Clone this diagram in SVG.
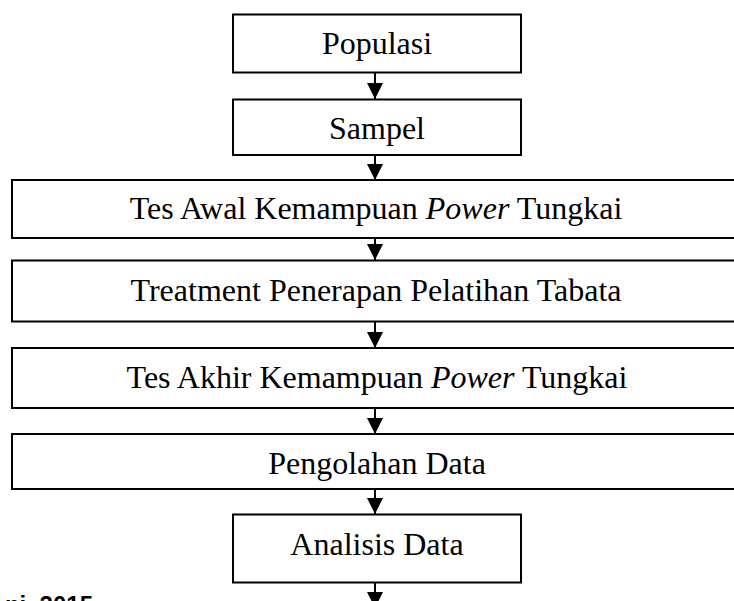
<svg xmlns="http://www.w3.org/2000/svg" width="734" height="601" viewBox="0 0 734 601">
<style>
.box{fill:#fff;stroke:#000;stroke-width:2}
.lbl{font-family:"Liberation Serif","Times New Roman",serif;font-size:32px;fill:#000;text-anchor:middle}
.con{stroke:#000;stroke-width:2;fill:none}
.src{font-family:"Liberation Sans",Arial,sans-serif;font-size:24px;font-weight:bold;fill:#000;text-anchor:end}
</style>
<defs>
<marker id="ah" markerUnits="userSpaceOnUse" markerWidth="18" markerHeight="16" refX="16" refY="8" orient="auto">
<path d="M0,0 L16,8 L0,16 Z" fill="#000"/>
</marker>
</defs>
<rect width="734" height="601" fill="#fff"/>
<g id="connectors">
<line class="con" x1="375" y1="73" x2="375" y2="99" marker-end="url(#ah)"/>
<line class="con" x1="375" y1="155" x2="375" y2="180" marker-end="url(#ah)"/>
<line class="con" x1="375" y1="238" x2="375" y2="260" marker-end="url(#ah)"/>
<line class="con" x1="375" y1="322" x2="375" y2="348" marker-end="url(#ah)"/>
<line class="con" x1="375" y1="408" x2="375" y2="434" marker-end="url(#ah)"/>
<line class="con" x1="375" y1="489" x2="375" y2="514" marker-end="url(#ah)"/>
<line class="con" x1="375" y1="583" x2="375" y2="608" marker-end="url(#ah)"/>
</g>
<g id="populasi">
<rect class="box" x="233" y="14.5" width="288" height="58"/>
<text class="lbl" x="377" y="54">Populasi</text>
</g>
<g id="sampel">
<rect class="box" x="233" y="99.5" width="288" height="55.5"/>
<text class="lbl" x="377" y="139">Sampel</text>
</g>
<g id="tes-awal">
<rect class="box" x="12" y="180" width="740" height="58"/>
<text class="lbl" x="376" y="219">Tes Awal Kemampuan <tspan font-style="italic">Power</tspan> Tungkai</text>
</g>
<g id="treatment">
<rect class="box" x="12" y="260.5" width="740" height="61"/>
<text class="lbl" x="376" y="301">Treatment Penerapan Pelatihan Tabata</text>
</g>
<g id="tes-akhir">
<rect class="box" x="12" y="348" width="740" height="60"/>
<text class="lbl" x="377" y="388">Tes Akhir Kemampuan <tspan font-style="italic">Power</tspan> Tungkai</text>
</g>
<g id="pengolahan">
<rect class="box" x="12" y="434" width="740" height="55"/>
<text class="lbl" x="377" y="474">Pengolahan Data</text>
</g>
<g id="analisis">
<rect class="box" x="233" y="514.5" width="288" height="68"/>
<text class="lbl" x="377" y="555">Analisis Data</text>
</g>
<text class="src" x="93" y="613">ni, 2015</text>
</svg>
